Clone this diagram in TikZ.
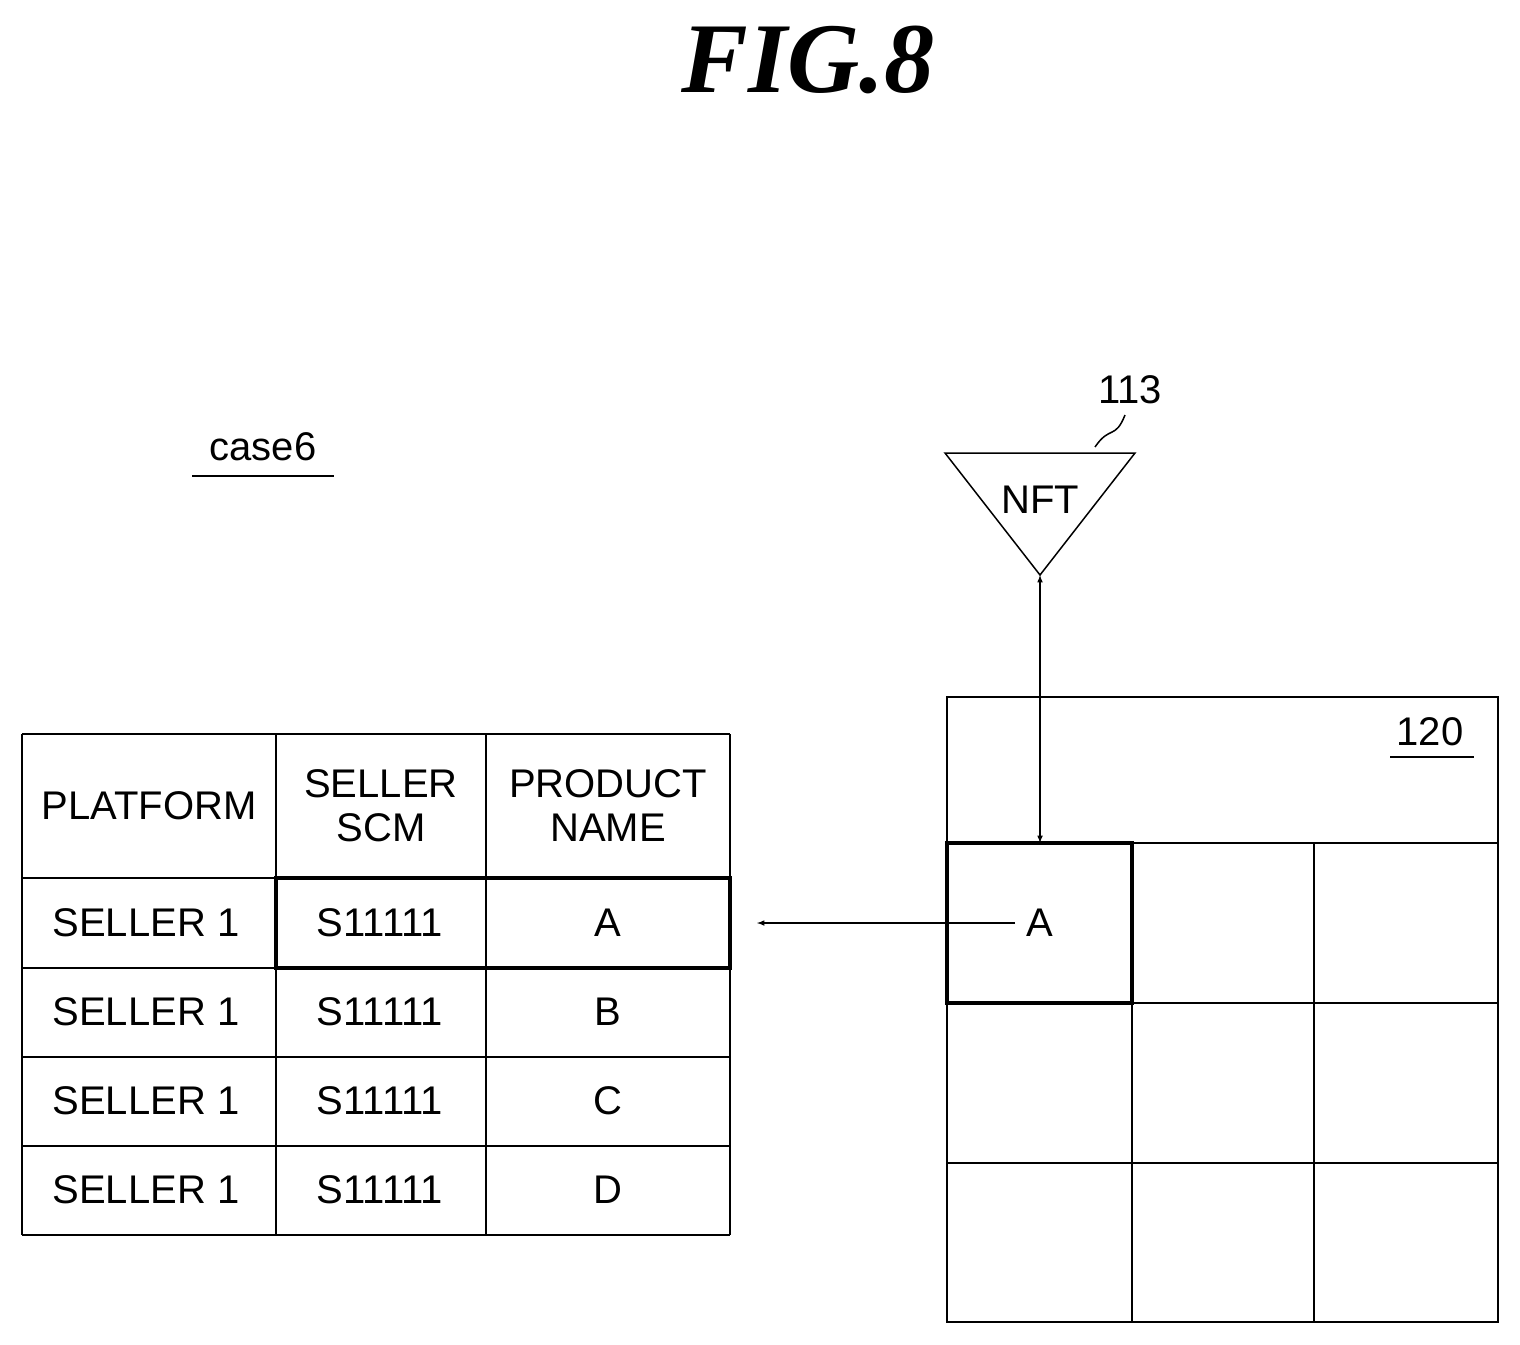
\documentclass[tikz,border=0pt]{standalone}
\usepackage{fontspec}
\setmainfont{Liberation Sans}
\newfontfamily\figfont{Liberation Serif}
\begin{document}
\begin{tikzpicture}[x=1pt,y=-1pt,
  thin/.style={line width=1.5pt},
  thick/.style={line width=4pt},
  txt/.style={font=\fontsize{40}{44}\selectfont,align=center,inner sep=0pt}]
\useasboundingbox (0,0) rectangle (1520,1344);
\node[font=\figfont\bfseries\itshape\fontsize{100}{100}\selectfont] (title) at (808,60) {FIG.8};
% case6
\node[txt] (case) at (263,447) {case6};
\draw[thin] (192,476) -- (334,476);
% table
\foreach \x in {22,276,486,730} \draw[thin] (\x,734) -- (\x,1235);
\foreach \y in {734,878,968,1057,1146,1235} \draw[thin] (22,\y) -- (730,\y);
\draw[thick] (276,878) rectangle (730,968);
\node[txt] (h1) at (149,806) {PLATFORM};
\node[txt] (h2) at (381,806) {SELLER\\SCM};
\node[txt] (h3) at (608,806) {PRODUCT\\NAME};
\foreach \y/\p in {923/A,1012/B,1101/C,1190/D}{
  \node[txt] at (146,\y) {SELLER 1};
  \node[txt] at (380,\y) {S11111};
  \node[txt] at (608,\y) {\p};
}
% grid
\draw[thin] (947,697) rectangle (1498,1322);
\draw[thin] (947,843) -- (1498,843);
\foreach \y in {1003,1163} \draw[thin] (947,\y) -- (1498,\y);
\foreach \x in {1132,1314} \draw[thin] (\x,843) -- (\x,1322);
\draw[thick] (947,843) rectangle (1132,1003);
\node[txt] (ref120) at (1430,732) {120};
\draw[thin] (1390,757) -- (1474,757);
\node[txt] (a) at (1040,923) {A};
\coordinate (tabend) at (757,923);
\draw[thin,-latex] (1015,923) -- (tabend);
% NFT
\coordinate (t1) at (945,453);
\coordinate (t2) at (1135,453);
\coordinate (tip) at (1040,575);
\draw[thin] (t1) -- (t2) -- (tip) -- cycle;
\node[txt] (nft) at (1040,500) {NFT};
\coordinate (cell) at (1040,843);
\draw[thin,latex-latex] (tip) -- (cell);
\node[txt] (r113) at (1130,390) {113};
\draw[thin] (1095,447) .. controls (1110,425) and (1115,440) .. (1125,415);
\end{tikzpicture}
\end{document}
